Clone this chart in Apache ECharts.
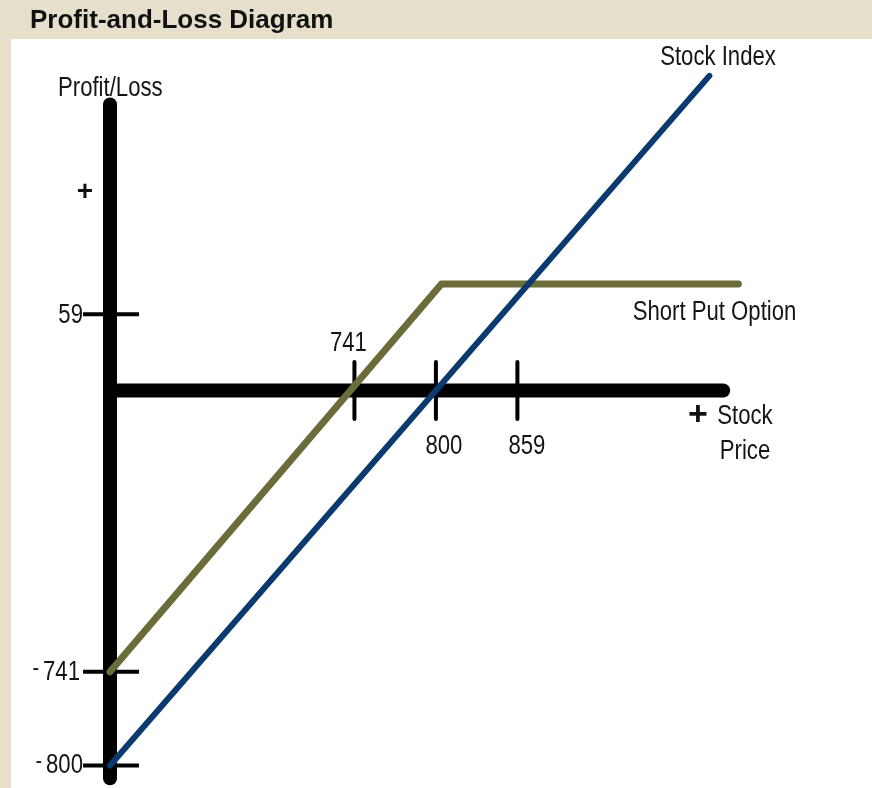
<!DOCTYPE html>
<html><head><meta charset="utf-8">
<script src="https://cdn.jsdelivr.net/npm/echarts@6/dist/echarts.min.js"></script>
<style>html,body{margin:0;padding:0;background:#E5DFCC;} #c{width:872px;height:788px;}</style>
</head><body><div id="c"></div>
<script>
// Schematic diagram (not to scale in the original).
// x: stock-price units; y: the diagram's profit/loss units.
const stockIndexPrice = [564, 998];
const stockIndexPL = [-236, 198];
const shortPutPrice = [564, 804, 1019];
const shortPutPL = [-177, 67, 67];
const xTickValues = [741, 800, 859];
const xTickLabels = ['741', '800', '859'];
const yTickValues = [48, -177, -236];
const yTickLabels = ['59', '-741', '-800'];
const axisOriginPrice = 564;
const xAxisEndPrice = 1008;
const yAxisTopPL = 180;
const yAxisBottomPL = -244;

// layout
const X_MIN = 490, X_MAX = 1110, PX_PER_X = 1.381, ORIGIN_PX_X = 110;
const Y_MIN = -248, Y_MAX = 220, PX_PER_Y = 1.589, ORIGIN_PX_Y = 390.5;
const gridLeft = ORIGIN_PX_X - (axisOriginPrice - X_MIN) * PX_PER_X;
const gridWidth = (X_MAX - X_MIN) * PX_PER_X;
const gridTop = ORIGIN_PX_Y - Y_MAX * PX_PER_Y;
const gridHeight = (Y_MAX - Y_MIN) * PX_PER_Y;

const SANS = '"Liberation Sans", Arial, Helvetica, sans-serif';
const NARROW_SCALE = 0.82;
const TXT = '#151515';

const zip = (a, b) => a.map((v, i) => [v, b[i]]);
const seg = (name, pts, width, color, cap, z) => ({
  type: 'line', name, data: pts, symbol: 'none', silent: true, clip: false, z,
  lineStyle: { width, color, cap: cap, join: 'round' }, animation: false
});

const series = [];
series.push(seg('yAxisLine', [[axisOriginPrice, yAxisTopPL], [axisOriginPrice, yAxisBottomPL]], 14, '#000', 'round', 3));
series.push(seg('xAxisLine', [[axisOriginPrice, 0], [xAxisEndPrice, 0]], 14, '#000', 'round', 3));
xTickValues.forEach(v => series.push(seg('xTick', [[v, 18], [v, -18]], 4, '#000', 'round', 3)));
yTickValues.forEach(v => series.push(seg('yTick', [[544.5, v], [585, v]], 4, '#000', 'butt', 3)));
series.push(seg('Short Put Option', zip(shortPutPrice, shortPutPL), 7, '#6C6B3A', 'round', 5));
series.push(seg('Stock Index', zip(stockIndexPrice, stockIndexPL), 6, '#0B3A6F', 'round', 6));

// narrow (condensed) text element
const txt = (text, x, y, opts, extra) => Object.assign({
  type: 'text', x, y, z: 100, silent: true, scaleX: NARROW_SCALE,
  style: Object.assign({ text, font: '27px ' + SANS, fill: TXT, textAlign: 'center', textVerticalAlign: 'middle' }, opts || {})
}, extra || {});

const chart = echarts.init(document.getElementById('c'), null, { renderer: 'canvas' });
chart.setOption({
  backgroundColor: '#E5DFCC',
  animation: false,
  grid: { left: gridLeft, top: gridTop, width: gridWidth, height: gridHeight, containLabel: false, outerBoundsMode: 'none' },
  xAxis: { type: 'value', min: X_MIN, max: X_MAX, show: false },
  yAxis: { type: 'value', min: Y_MIN, max: Y_MAX, show: false },
  series
});

// tick labels placed through the chart's own scales
const xLabelOffsets = [[-6, -47], [8, 56.5], [9.5, 56.5]];
const yLabelOffsets = [[-27, 1], [-30, 1], [-27, 0]];
const labelEls = [];
xTickValues.forEach((v, i) => {
  const p = chart.convertToPixel({ gridIndex: 0 }, [v, 0]);
  labelEls.push(txt(xTickLabels[i], p[0] + xLabelOffsets[i][0], p[1] + xLabelOffsets[i][1]));
});
yTickValues.forEach((v, i) => {
  const p = chart.convertToPixel({ gridIndex: 0 }, [axisOriginPrice, v]);
  const s = yTickLabels[i];
  const rich = s.charAt(0) === '-' ? '{m|-}{d|' + s.slice(1) + '}' : '{d|' + s + '}';
  labelEls.push(txt(rich, p[0] + yLabelOffsets[i][0], p[1] + yLabelOffsets[i][1], {
    textAlign: 'right',
    rich: {
      m: { font: '24px ' + SANS, lineHeight: 22, verticalAlign: 'top', fill: TXT, padding: [0, 5, 0, 0] },
      d: { font: '27px ' + SANS, lineHeight: 32, fill: TXT }
    }
  }));
});

chart.setOption({
  graphic: [
    { type: 'rect', shape: { x: 11, y: 39, width: 861, height: 749 }, style: { fill: '#ffffff' }, z: -10, silent: true },
    { type: 'text', x: 30, y: 21, z: 100, silent: true,
      style: { text: 'Profit-and-Loss Diagram', font: 'bold 26px ' + SANS, fill: '#111', textAlign: 'left', textVerticalAlign: 'middle' } },
    txt('Profit/Loss', 58, 89, { textAlign: 'left' }),
    { type: 'text', x: 85, y: 192, z: 100, silent: true,
      style: { text: '+', font: 'bold 28px ' + SANS, fill: '#111', textAlign: 'center', textVerticalAlign: 'middle' } },
    txt('Stock Index', 718, 58),
    txt('Short Put Option', 714.5, 313),
    { type: 'text', x: 698, y: 416, z: 100, silent: true,
      style: { text: '+', font: 'bold 34px ' + SANS, fill: '#111', textAlign: 'center', textVerticalAlign: 'middle' } },
    txt('Stock', 745, 417),
    txt('Price', 745, 452)
  ].concat(labelEls)
});
</script>
</body></html>
